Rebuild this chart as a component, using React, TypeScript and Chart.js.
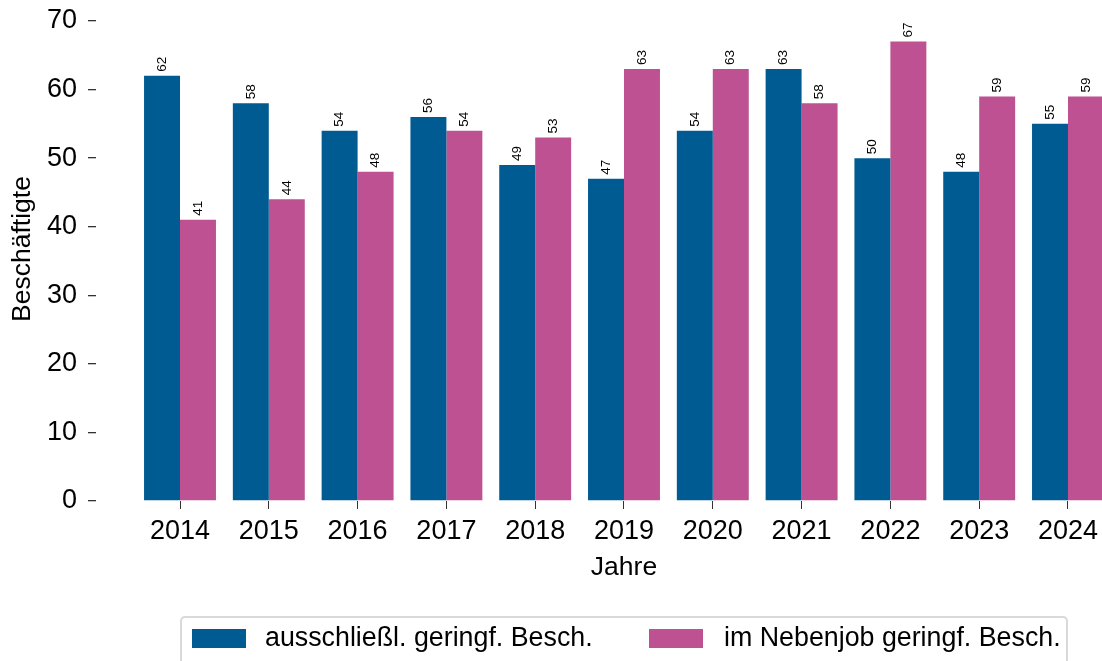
import React, { useEffect, useRef } from 'react';
import { Chart, registerables } from 'chart.js';

Chart.register(...registerables);

const years = [2014, 2015, 2016, 2017, 2018, 2019, 2020, 2021, 2022, 2023, 2024];
const ausschliesslich = [62, 58, 54, 56, 49, 47, 54, 63, 50, 48, 55];
const nebenjob = [41, 44, 48, 54, 53, 63, 63, 58, 67, 59, 59];
const yTicks = [0, 10, 20, 30, 40, 50, 60, 70];
const seriesLabels = ['ausschließl. geringf. Besch.', 'im Nebenjob geringf. Besch.'];
const seriesValues = [ausschliesslich, nebenjob];
const colors = ['#005b92', '#bd5191'];
const yTitle = 'Beschäftigte';
const xTitle = 'Jahre';

const FONT = '"Liberation Sans", Arial, sans-serif';

const customPlugin = {
  id: 'customDraw',
  afterDatasetsDraw(chart: any) {
    const ctx = chart.ctx;
    ctx.save();
    ctx.font = `13.5px ${FONT}`;
    ctx.fillStyle = '#000';
    ctx.textAlign = 'left';
    ctx.textBaseline = 'middle';
    chart.data.datasets.forEach((_ds: any, di: number) => {
      const meta = chart.getDatasetMeta(di);
      meta.data.forEach((bar: any, i: number) => {
        const v = seriesValues[di][i];
        ctx.save();
        ctx.translate(bar.x, bar.y - 4);
        ctx.rotate(-Math.PI / 2);
        ctx.fillText(String(v), 0, 0);
        ctx.restore();
      });
    });
    ctx.restore();
  },
  afterDraw(chart: any) {
    const ctx = chart.ctx;
    ctx.save();
    ctx.fillStyle = '#000';
    ctx.font = `26.5px ${FONT}`;
    // y title
    ctx.save();
    ctx.translate(23, 249);
    ctx.rotate(-Math.PI / 2);
    ctx.textAlign = 'center';
    ctx.textBaseline = 'middle';
    ctx.fillText(yTitle, 0, 0);
    ctx.restore();
    // x title
    ctx.textAlign = 'center';
    ctx.textBaseline = 'middle';
    ctx.fillText(xTitle, 624, 568);
    // legend
    ctx.strokeStyle = '#d9d9d9';
    ctx.lineWidth = 2;
    ctx.beginPath();
    if ((ctx as any).roundRect) {
      (ctx as any).roundRect(181, 617, 886, 60, 4);
    } else {
      ctx.rect(181, 617, 886, 60);
    }
    ctx.stroke();
    const swatchX = [192, 649];
    const textX = [265, 724];
    ctx.font = `26.8px ${FONT}`;
    ctx.textAlign = 'left';
    ctx.textBaseline = 'middle';
    seriesLabels.forEach((lab, i) => {
      ctx.fillStyle = colors[i];
      ctx.fillRect(swatchX[i], 629, 54, 19);
      ctx.fillStyle = '#000';
      ctx.fillText(lab, textX[i], 639);
    });
    ctx.restore();
  },
};

export default function App() {
  const canvasRef = useRef<HTMLCanvasElement | null>(null);

  useEffect(() => {
    if (!canvasRef.current) return;
    const chart = new Chart(canvasRef.current, {
      type: 'bar',
      data: {
        datasets: seriesLabels.map((lab, di) => ({
          label: lab,
          data: years.map((yr, i) => ({ x: yr, y: seriesValues[di][i] })),
          backgroundColor: colors[di],
          borderWidth: 0,
          barPercentage: 1,
          categoryPercentage: 0.81,
        })),
      },
      options: {
        responsive: false,
        animation: false,
        layout: { padding: { top: 21, bottom: 71, left: 0, right: 0 } },
        plugins: {
          legend: { display: false },
          tooltip: { enabled: false },
          title: { display: false },
        },
        scales: {
          x: {
            type: 'linear',
            offset: false,
            min: years[0] - 0.946,
            max: years[years.length - 1] + 0.383,
            afterBuildTicks: (s: any) => {
              s.ticks = years.map((v) => ({ value: v }));
            },
            afterFit: (s: any) => {
              s.height = 89;
              s.paddingLeft = 0;
              s.paddingRight = 0;
              s.paddingTop = 0;
              s.paddingBottom = 0;
            },
            grid: {
              display: true,
              drawOnChartArea: false,
              drawTicks: true,
              tickLength: 8,
              color: '#333',
              offset: false,
              lineWidth: 1,
            },
            border: { display: false },
            ticks: {
              font: { family: FONT, size: 27 },
              color: '#000',
              padding: 6,
              maxRotation: 0,
              autoSkip: false,
              callback: (v: any) => String(v),
            },
          },
          y: {
            min: 0,
            max: 70,
            afterBuildTicks: (s: any) => {
              s.ticks = yTicks.map((v) => ({ value: v }));
            },
            afterFit: (s: any) => {
              s.width = 96;
              s.paddingTop = 0;
              s.paddingBottom = 0;
              s.paddingLeft = 0;
              s.paddingRight = 0;
            },
            grid: {
              display: true,
              drawOnChartArea: false,
              drawTicks: true,
              tickLength: 8,
              color: '#333',
              lineWidth: 1.3,
            },
            border: { display: false },
            ticks: {
              font: { family: FONT, size: 27 },
              color: '#000',
              padding: 11,
              callback: (v: any) => String(v),
            },
          },
        },
      } as any,
      plugins: [customPlugin],
    });
    return () => chart.destroy();
  }, []);

  return (
    <div style={{ position: 'fixed', left: 0, top: 0, width: 1102, height: 661, background: '#fff', overflow: 'hidden' }}>
      <canvas ref={canvasRef} width={1102} height={661} style={{ display: 'block' }} />
    </div>
  );
}
